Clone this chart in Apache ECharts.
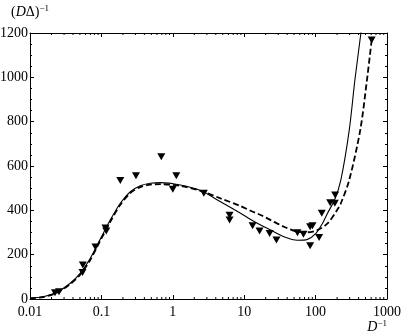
<!DOCTYPE html>
<html>
<head>
<meta charset="utf-8">
<script src="https://cdn.jsdelivr.net/npm/echarts@6/dist/echarts.min.js"></script>
<style>
html,body{margin:0;padding:0;background:#fff;}
#c{width:401px;height:335px;}
</style>
</head>
<body>
<div id="c"></div>
<script>
// x tick labels and y ticks
const xTicks = [0.01, 0.1, 1, 10, 100, 1000];
const yTicks = [0, 200, 400, 600, 800, 1000, 1200];

// solid model curve [D^-1, (DΔ)^-1]
const solidX = [0.01,0.0154,0.0237,0.0365,0.0504,0.0697,0.096,0.133,0.184,0.254,0.351,0.484,0.67,1.28,2.44,4.66,8.9,12.3,17,23.5,36,55.7,77,101,125,147,186,226,296,355,431,460];
const solidY = [4,10,30,71,116,183,269,356,432,484,511,522,525,514,489,439,387,359,334,311,281,265,269,296,341,387,450,537,762,988,1200,1285];

// dashed model curve
const dashX = [0.01,0.0154,0.0237,0.0365,0.0504,0.0697,0.096,0.133,0.184,0.254,0.351,0.484,0.67,1.28,2.44,4.66,8.9,12.3,17,23.5,36,55.7,77,106,147,200,226,296,422,524,610];
const dashY = [4,9,28,67,110,176,262,348,425,478,505,516,518,510,488,454,419,398,379,356,326,304,301,311,341,401,432,537,762,988,1168];

// measured points
const ptsX = [0.0224,0.0255,0.055,0.0544,0.0826,0.114,0.117,0.184,0.305,0.69,1.12,1.0,2.72,6.24,6.24,13.1,16.4,22.7,28.3,55.7,67.6,83.8,90.4,83.8,112,122,160,186,188,610];
const ptsY = [28,33,153,119,235,320,307,535,556,642,556,495,477,378,356,331,307,296,266,299,292,326,331,240,277,387,434,432,469,1168];

const zip = (a, b) => a.map((v, i) => [v, b[i]]);

// minor tick positions on log axis (2..9 per decade)
const minorX = [];
for (let d = 0.01; d < 1000; d *= 10) {
  for (let k = 2; k <= 9; k++) minorX.push([+(k * d).toPrecision(3), 0]);
}

const FONT = 'Liberation Serif';
const fmt = v => String(Number(Number(v).toPrecision(3)));

const chart = echarts.init(document.getElementById('c'), null, {renderer: 'canvas'});
const axisLineStyle = {color: '#000', width: 1};

chart.setOption({
  animation: false,
  backgroundColor: '#fff',
  grid: {left: 30, right: 14, top: 33, bottom: 36, outerBoundsMode: 'none', containLabel: false},
  xAxis: [{
    type: 'log', logBase: 10, min: 0.01, max: 1000, position: 'bottom',
    axisLine: {show: true, onZero: false, lineStyle: axisLineStyle},
    axisTick: {show: true, inside: true, length: 4, lineStyle: axisLineStyle},
    axisLabel: {show: true, color: '#000', fontFamily: FONT, fontSize: 14, margin: 6, formatter: fmt},
    splitLine: {show: false},
    name: '{i|D}{s|−1}', nameLocation: 'end', nameGap: 0,
    nameTextStyle: {
      align: 'right', verticalAlign: 'top', padding: [20, 0, 0, 0],
      rich: {
        i: {fontFamily: FONT, fontStyle: 'italic', fontSize: 14, color: '#000'},
        s: {fontFamily: FONT, fontSize: 9, color: '#000', padding: [0, 0, 8, 0]}
      }
    }
  }, {
    type: 'log', logBase: 10, min: 0.01, max: 1000, position: 'top',
    axisLine: {show: true, onZero: false, lineStyle: axisLineStyle},
    axisTick: {show: true, inside: true, length: 4, lineStyle: axisLineStyle},
    axisLabel: {show: false}, splitLine: {show: false}
  }],
  yAxis: [{
    type: 'value', min: 0, max: 1200, interval: 200, position: 'left',
    axisLine: {show: true, onZero: false, lineStyle: axisLineStyle},
    axisTick: {show: true, inside: true, length: 4, lineStyle: axisLineStyle},
    minorTick: {show: true, splitNumber: 4, length: 2, lineStyle: axisLineStyle},
    axisLabel: {show: true, color: '#000', fontFamily: FONT, fontSize: 14, margin: 2, formatter: v => String(v)},
    splitLine: {show: false}, minorSplitLine: {show: false},
    name: '{p|(}{i|D}{p|Δ)}{s|−1}', nameLocation: 'end', nameGap: 12,
    nameTextStyle: {
      align: 'center',
      rich: {
        p: {fontFamily: FONT, fontSize: 14, color: '#000'},
        i: {fontFamily: FONT, fontStyle: 'italic', fontSize: 14, color: '#000'},
        s: {fontFamily: FONT, fontSize: 9, color: '#000', padding: [0, 0, 8, 0]}
      }
    }
  }, {
    type: 'value', min: 0, max: 1200, interval: 200, position: 'right',
    axisLine: {show: true, onZero: false, lineStyle: axisLineStyle},
    axisTick: {show: true, inside: true, length: 4, lineStyle: axisLineStyle},
    minorTick: {show: true, splitNumber: 4, length: 2, lineStyle: axisLineStyle},
    axisLabel: {show: false}, splitLine: {show: false}, minorSplitLine: {show: false}
  }],
  series: [{
    type: 'custom', xAxisIndex: 0, yAxisIndex: 0, silent: true, clip: false, z: 1,
    data: minorX,
    renderItem: (params, api) => {
      const v = api.value(0);
      const b = api.coord([v, 0]);
      const t = api.coord([v, 1200]);
      return {type: 'group', children: [
        {type: 'line', shape: {x1: b[0], y1: b[1], x2: b[0], y2: b[1] - 2}, style: {stroke: '#000', lineWidth: 1}},
        {type: 'line', shape: {x1: t[0], y1: t[1], x2: t[0], y2: t[1] + 2}, style: {stroke: '#000', lineWidth: 1}}
      ]};
    }
  }, {
    type: 'line', xAxisIndex: 1, yAxisIndex: 1, data: [], silent: true
  }, {
    name: 'solid', type: 'line', xAxisIndex: 0, yAxisIndex: 0,
    data: zip(solidX, solidY), smooth: 0.3, showSymbol: false, symbol: 'none', clip: true,
    lineStyle: {color: '#000', width: 1.1}, z: 2
  }, {
    name: 'dashed', type: 'line', xAxisIndex: 0, yAxisIndex: 0,
    data: zip(dashX, dashY), smooth: 0.3, showSymbol: false, symbol: 'none', clip: true,
    lineStyle: {color: '#000', width: 1.8, type: [6, 3]}, z: 2
  }, {
    name: 'data', type: 'scatter', xAxisIndex: 0, yAxisIndex: 0,
    data: zip(ptsX, ptsY), symbol: 'triangle', symbolRotate: 180, symbolSize: [8, 7],
    itemStyle: {color: '#000', opacity: 1}, z: 3
  }]
});
</script>
</body>
</html>
